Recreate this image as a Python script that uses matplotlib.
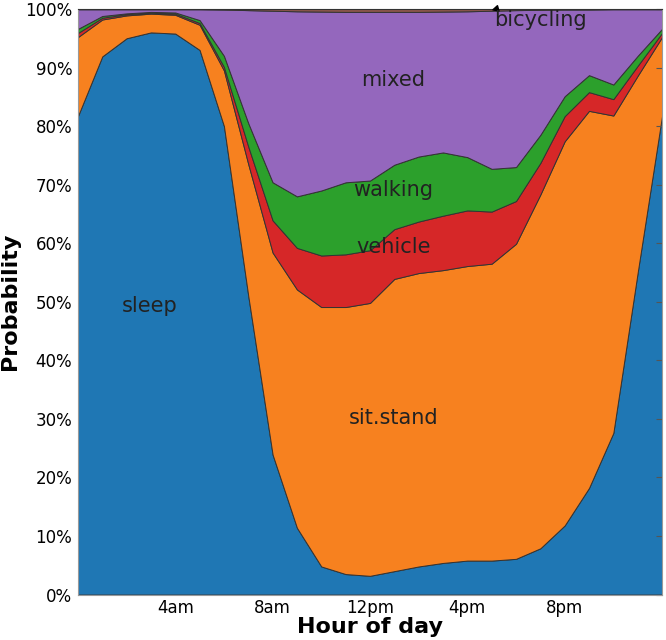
#!/usr/bin/env python3
"""Stacked activity probability by hour of day."""

import matplotlib
matplotlib.use('Agg')
import matplotlib.pyplot as plt
import numpy as np

# hours 0..24 (24 wraps back to midnight)
hours = list(range(25))

# probability of each activity (%)
sleep = [81.7, 91.9, 95.0, 96.0, 95.8, 93.0, 80.0, 51.0, 23.9, 11.4, 4.8, 3.5, 3.2,
         4.0, 4.8, 5.4, 5.8, 5.8, 6.1, 7.9, 11.8, 18.2, 27.6, 55.0, 81.7]
sit_stand = [13.5, 6.3, 3.9, 3.2, 3.2, 4.3, 9.5, 22.5, 34.5, 40.7, 44.3, 45.6, 46.6,
             49.9, 50.1, 50.0, 50.3, 50.7, 53.8, 60.4, 65.6, 64.4, 54.2, 33.6, 13.5]
vehicle = [0.7, 0.3, 0.2, 0.15, 0.2, 0.3, 0.6, 3.0, 5.5, 7.1, 8.8, 9.0, 9.0,
           8.5, 8.8, 9.3, 9.5, 8.9, 7.3, 5.4, 4.3, 3.2, 2.8, 1.7, 0.7]
walking = [0.7, 0.3, 0.15, 0.15, 0.2, 0.5, 1.9, 4.0, 6.5, 8.8, 11.1, 12.3, 11.9,
           11.0, 11.1, 10.8, 9.1, 7.3, 5.8, 4.8, 3.4, 2.9, 2.5, 1.7, 0.7]
mixed = [3.35, 1.15, 0.7, 0.45, 0.55, 1.85, 7.9, 19.3, 29.3, 31.6, 30.55, 29.1, 28.8,
         26.1, 24.7, 24.05, 24.9, 27.0, 26.8, 21.35, 14.8, 11.2, 12.85, 7.95, 3.35]
bicycling = [0.05, 0.05, 0.05, 0.05, 0.05, 0.05, 0.1, 0.2, 0.3, 0.4, 0.45, 0.5, 0.5,
             0.5, 0.5, 0.45, 0.4, 0.3, 0.2, 0.15, 0.1, 0.1, 0.05, 0.05, 0.05]

COLORS = ['#1f77b4', '#f7811f', '#d62728', '#2ca02c', '#9467bd', '#8c564b']

xtick_pos = [4, 8, 12, 16, 20]
xtick_labels = ['4am', '8am', '12pm', '4pm', '8pm']
ytick_pos = [0, 10, 20, 30, 40, 50, 60, 70, 80, 90, 100]
ytick_labels = ['0%', '10%', '20%', '30%', '40%', '50%', '60%', '70%', '80%', '90%', '100%']

fig, ax = plt.subplots(figsize=(6.66, 6.4), dpi=100)
fig.subplots_adjust(left=0.117, right=0.994, top=0.986, bottom=0.071)

ax.stackplot(hours, sleep, sit_stand, vehicle, walking, mixed, bicycling,
             colors=COLORS, edgecolor='#333333', linewidth=0.7)

ax.set_xlim(0, 24)
ax.set_ylim(0, 100)
ax.set_xticks(xtick_pos)
ax.set_xticklabels(xtick_labels, fontsize=12)
ax.set_yticks(ytick_pos)
ax.set_yticklabels(ytick_labels, fontsize=12)
ax.tick_params(axis='x', bottom=False, length=0, pad=3)
ax.tick_params(axis='y', left=False, right=True, direction='in', length=4,
               color='#555555', pad=4)
for side in ['left', 'bottom', 'right']:
    ax.spines[side].set_color('#999999')
ax.spines['top'].set_color('#333333')

ax.set_xlabel('Hour of day', fontsize=16, fontweight='bold', labelpad=0)
ax.set_ylabel('Probability', fontsize=16, fontweight='bold', labelpad=4)

# in-plot labels
ax.text(2.94, 49.2, 'sleep', fontsize=15, ha='center', va='center', color='#222222')
ax.text(12.96, 30.2, 'sit.stand', fontsize=15, ha='center', va='center', color='#222222')
ax.text(12.96, 59.4, 'vehicle', fontsize=15, ha='center', va='center', color='#222222')
ax.text(12.96, 69.1, 'walking', fontsize=15, ha='center', va='center', color='#222222')
ax.text(12.96, 87.8, 'mixed', fontsize=15, ha='center', va='center', color='#222222')
ax.annotate('bicycling', xy=(17.05, 99.85), xytext=(17.1, 98.2), fontsize=15,
            ha='left', va='center', color='#222222',
            arrowprops=dict(facecolor='black', edgecolor='black', width=0.5,
                            headwidth=4, headlength=4, shrink=0))

plt.savefig('out.png', dpi=100)
plt.close()
